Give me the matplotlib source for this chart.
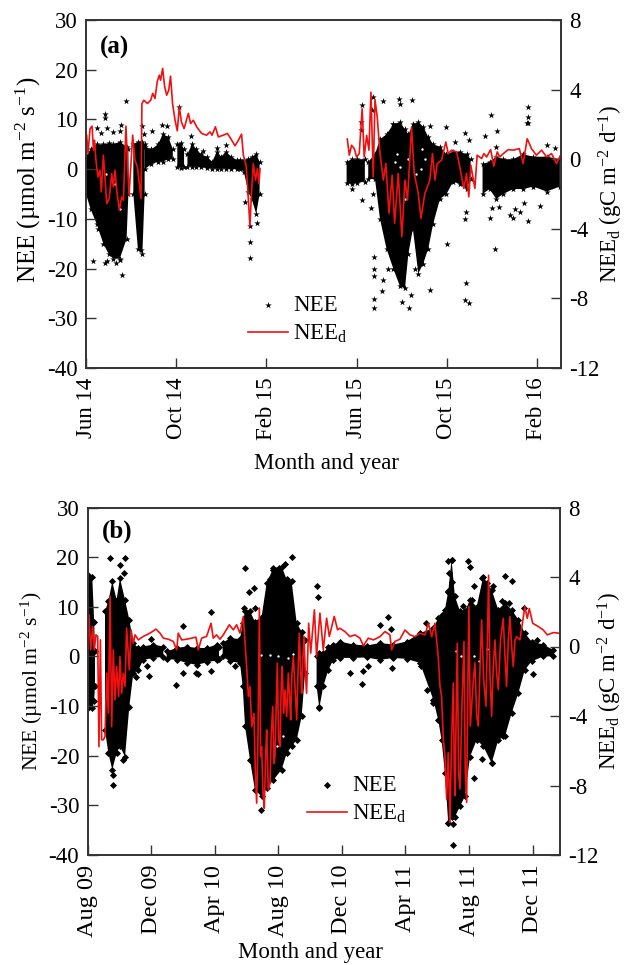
import numpy as np
import matplotlib
matplotlib.use('Agg')
import matplotlib.pyplot as plt

plt.rcParams['font.family'] = ['Liberation Serif', 'DejaVu Serif']
plt.rcParams['mathtext.fontset'] = 'custom'
plt.rcParams['mathtext.rm'] = 'Liberation Serif'
plt.rcParams['mathtext.it'] = 'Liberation Serif:italic'
plt.rcParams['mathtext.bf'] = 'Liberation Serif:bold'
plt.rcParams['mathtext.default'] = 'rm'
plt.rcParams['axes.unicode_minus'] = False

nan = float('nan')

# x is months since the first tick of each panel
a_ticks = [0, 4, 8, 12, 16, 20]
a_labels = ['Jun 14', 'Oct 14', 'Feb 15', 'Jun 15', 'Oct 15', 'Feb 16']
b_ticks = [0, 4, 8, 12, 16, 20, 24, 28]
b_labels = ['Aug 09', 'Dec 09', 'Apr 10', 'Aug 10', 'Dec 10', 'Apr 11', 'Aug 11', 'Dec 11']

# dense NEE cloud, upper and lower limit per month, nan = data gap
a_m = [0, .2, .47, .77, 1.0, 1.2, 1.5, 1.8, 1.88, nan,
       2.1, 2.3, 2.5, 2.6, nan,
       2.6, 2.9, 3.2, 3.4, 3.65, 3.85, nan,
       4.05, 4.2, 4.35, nan, 4.5, 4.7, 4.9, 5.1, 5.35, 5.6, 5.8, 6.0, 6.2, 6.45, 6.7, 6.85, 7.0, 7.2, 7.35, 7.55, 7.7, nan,
       11.56, 11.8, 12.0, 12.37, nan, 12.52, 12.82, 13.04, 13.33, 13.63, 13.92, 14.15, 14.3, 14.5, 14.74, 14.96,
       15.18, 15.4, 15.7, 15.99, 16.29, 16.58, 16.88, 17.06, nan,
       17.59, 17.9, 18.2, 18.5, 18.95, 19.39, 19.84, 20.43, 21.02]
a_high = [2.5, 4, 5, 5, 5.2, 5, 5.5, 4.5, 4, nan,
          5, 5.5, 5.5, 5, nan,
          4.5, 4, 5, 7, 6.5, 4, nan,
          5, 5.3, 4, nan, 3, 5, 4, 3, 2.5, 1.5, 3.5, 2.5, 3.5, 2.5, 1.8, 1.8, 1.8, 2, 2.5, 3, 1.5, nan,
          1.5, 2, 2, 2, nan, 1.5, 3, 6, 7, 9, 9.5, 8, 7, 9, 9.5, 8.5,
          6.5, 5, 4.5, 3, 3.5, 3.5, 3, 2, nan,
          1, 1.5, 2.5, 2, 2, 3, 2.5, 2.5, 2]
a_low = [-5, -8, -11, -15, -17, -18, -18, -14, -5, nan,
         -5, -16, -17, -5, nan,
         0, 1, 1.5, 1.5, 2, 2, nan,
         .5, .3, .5, nan, .5, .5, .5, .4, .2, .1, .1, .1, .1, 0, 0, 0, -.5, -4.5, -6, -9, -5, nan,
         -2.8, -3, -2.8, -2.5, nan, -2, -2, -10, -16, -20, -23.5, -24, -17, -12, -21, -19,
         -16, -11, -6, -5, -2.5, -3, -4, -2, nan,
         -5, -4, -6, -5, -4, -4, -3.5, -4.5, -3.5]

# single NEE points outside the cloud
a_out_m = [1.76, .84, .84, .5, .95, .68, 1.55, 1.21, 1.5, 2.47, 2.59, 2.94, 3.36, 3.58, 4.14, 4.66, 5.2, 5.79, 6.19,
           .22, .55, 7.05, 7.57, 7.27, .33, .84, .95, 1.06, 1.33, 1.58, 1.5, 2.44, 7.27, 7.27,
           12.25, 12.74, 12.67, 13.18, 13.88, 13.92, 14.47, 12.22, 12.22, 13.6, 15.28, 15.99, 16.82, 17.0, 16.36,
           17.72, 17.96, 18.24, 19.6, 19.6, 19.57, 19.6, 20.43, 20.8, 18.2,
           11.8, 12.25, 12.64, 12.74, 16.84, 16.82, 16.0, 17.9, 18.13, 18.0, 18.31, 18.8, 18.95, 19.25, 19.02, 19.42,
           19.6, 20.13, 12.77, 12.77, 12.77, 12.77, 12.77, 13.14, 13.18, 13.4, 14.0, 14.34, 14.41, 15.25, 16.84,
           16.82, 16.98, 14.59]
a_out_v = [13.7, 11, 10.2, 8.3, 8.3, 7.3, 8.9, 7.5, 7.6, 8.7, 7, 7.7, 8.9, 8.7, 12.5, 6.7, 3.6, 4.2, 4.8,
           -6.2, -12, -6.6, -10.9, -11.4, -18.4, -18.9, -18.4, -16.3, -18.8, -21.3, -18.3, -16.3, -17.8, -14.6,
           12.9, 14.6, 11.9, 13.8, 14.1, 13.2, 13.9, 9.5, 7.9, 9.1, 8.7, 8.4, 7.3, 5.9, 5.5,
           6.7, 10.8, 7.6, 12.4, 10.5, 9.2, 9.2, 4.8, 4.2, 4.5,
           -3.9, -6.2, -7.9, -4.9, -8.6, -10, -15, -9.9, -16, -7.8, -7.6, -9.2, -9.8, -8.6, -8, -6.9,
           -10.5, -7.4, -17.6, -20, -21.5, -26.2, -27.9, -24.5, -22.3, -20, -26.8, -27.9, -25.3, -24.3, -23,
           -26.3, -27, -20]

# light gaps inside the cloud
a_gap_m = [.9, 1.3, 1.5, 13.7, 13.95, 14.3, 14.85, 15.05, 14.65, 14.15, 13.8, 14.9]
a_gap_v = [-1, -3, -8, 1.5, .5, 2, 0, 2, -1, -6, 3, 4]
b_gap_m = [10.9, 11.5, 12, 12.6, 12.9, 11.9, 12.3, 24.3, 24.6, 23.5, 24.5, 24.8, 23.2, 25.1]
b_gap_v = [.3, .3, 0, -.3, .5, -18, -16, 0, -1, 0, -19, -20, 1, 1.5]

# daily NEE, right axis
a_d_m = [.03, .09, .18, .27, .33, .38, .44, .53, .62, .68, .77, .83, .92, 1.03, 1.14, 1.21, 1.29, 1.36, 1.48, 1.58,
         1.66, 1.77, 1.91, 2.07, 2.17, 2.28, 2.44, 2.48, 2.57, 2.72, 2.87, 2.96, 3.06, 3.16, 3.25, 3.31, 3.40, 3.49,
         3.58, 3.67, 3.75, 3.84, 3.95, 4.05, 4.14, 4.23, 4.35, 4.54, 4.64, 4.76, 4.91, 5.13, 5.35, 5.50, 5.59, 5.74,
         5.87, 6.09, 6.27, 6.42, 6.61, 6.76, 6.90, 6.98, 7.10, 7.17, 7.27, 7.35, 7.42, 7.52, 7.60, 7.67, 7.72, nan,
         11.59, 11.68, 11.78, 11.90, 12.00, 12.12, 12.25, 12.34, 12.45, 12.55, 12.64, 12.74, 12.82, 12.92, 13.04,
         13.19, 13.30, 13.44, 13.58, 13.69, 13.85, 14.01, 14.15, 14.26, 14.44, 14.56, 14.74, 14.86, 15.03, 15.25,
         15.37, 15.48, 15.58, 15.77, 15.96, 16.07, 16.22, 16.44, 16.58, 16.76, 16.88, 16.98, 17.07, 17.25, 17.35,
         17.55, 17.65, 17.77, 17.95, 18.09, 18.24, 18.36, 18.51, 18.73, 18.95, 19.22, 19.39, 19.57, 19.76, 19.98,
         20.21, 20.43, 20.65, 20.87, 21.05]
a_d_v = [1.38, .33, 1.76, 1.90, .52, 1.09, -.06, -1.02, -.63, -1.88, .23, -.82, -2.55, -2.26, -.82, -1.59, -.63, -1.78,
         -2.93, -2.17, -2.36, 1.90, -2.07, 1.38, -.06, -.44, -2.26, 3.20, 3.39, 3.20, 3.39, 3.78, 3.49, 4.45, 4.83,
         4.54, 5.22, 4.16, 3.68, 3.97, 4.77, 3.20, 2.24, 1.63, 3.01, 2.15, 1.76, 2.63, 2.05, 2.24, 1.86, 1.48, 1.38,
         1.57, 1.38, 1.86, 1.28, 1.38, 1.48, 1.19, .77, 1.09, 1.44, .23, -.35, -1.59, -3.84, -1.78, -.25, -1.21, -.54,
         -1.40, -.54, nan,
         1.16, .23, .80, .61, .13, .32, 2.90, .13, 1.37, .52, 3.85, -1.01, 3.42, 2.42, .32, -1.20, -.25, -3.11, -.92,
         -3.68, -.82, -4.45, -1.20, -2.35, 1.85, -.82, -1.97, -3.40, -1.97, -1.20, .32, -1.20, -.25, -.06, .99, .32,
         .52, .42, -.44, -1.68, -.82, -2.16, -.34, -1.68, .23, .04, .32, .13, .55, -.40, .42, .13, .32, .55, .52, .61,
         -.25, 1.18, .61, .23, .52, .13, .32, -.25, .23]

b_m = [0, .3, .42, .47, nan,
       1.1, 1.31, 1.56, 1.83, 2.04, 2.36, 2.63, 2.88, 3.2, 3.51, 4.14, 4.77, nan,
       4.98, 5.61, 6.24, 6.87, 7.49, 8.12, 8.27, nan,
       8.5, 8.96, 9.59, 9.76, 9.91, 10.22, 10.53, 10.95, 11.27, 11.69, 12.21, 12.53, 12.84, 13.16, 13.47, 13.68, nan,
       14.41, 14.58, 14.83, 15.15, 15.46, 15.88, 16.72, 17.56, 18.4, 19.23, 20.07, 20.91, 21.75, 22.06, 22.27, 22.48,
       22.69, 22.9, 23.11, 23.43, 23.74, 24.06, 24.48, 24.89, 25.42, 25.84, 26.26, 26.68, 27.1, 27.51, 27.93, 28.67,
       29.3]
b_high = [16.5, 16, 7, 1, nan,
          9.1, 11.1, 15.1, 11.4, 15.8, 11.4, 7.4, 2.7, 1.7, 2, 2.4, 2, nan,
          1, 1.7, 2, 1.7, 1.7, 2.4, 2, nan,
          2.7, 3.7, 3.5, 6.7, 9.1, 9.1, 7, 8, 14.8, 17.8, 18.1, 15.5, 15.1, 6.7, 5, 3.4, nan,
          0, .7, .7, 2, 2.4, 3, 2.4, 2.2, 2.7, 2.4, 3, 4.7, 5.7, 7.7, 8.4, 9.4,
          13.1, 19.5, 12.1, 9.1, 9.1, 11.4, 10, 16.1, 13.4, 9.4, 10.8, 9.4, 7.4, 4.7, 3, 2.4,
          1.3]
b_low = [-10.4, -10.4, -9, -6, nan,
         -14.8, -19.5, -22.8, -19.5, -18.1, -20.2, -10.1, -3.4, -2.7, -.7, -.3, -.1, nan,
         -.5, -.7, -1.3, -1.7, -1.2, -.8, -.5, nan,
         0, -1, -1.3, -6, -14.1, -20.8, -26.9, -28.2, -26.5, -24.9, -22.8, -19.5, -18.1, -16.8, -12.1, -3.4, nan,
         -6, -10.4, -6, -2.7, -.7, -.3, -.3, -.2, -.7, -.3, -.5, -1.3, -8.7, -12.8, -16.8, -23.5,
         -33.6, -32.3, -32.3, -30.2, -28.2, -20.2, -16.8, -18.1, -21.5, -16.8, -16.1, -11.4, -7.4, -2.7, -1, 0,
         0]

b_out_m = [1.42, 2.38, 2.02, 2.32, 1.58, 1.58, 2.21, 3.03, 3.76, 3.85, 3.97, 6.03, 6.03, 5.59, 7.77, 7.75, 6.82, 6.97,
           9.91, 10.16, 10.45, 9.82, 14.45, 14.5, 14.58, 10.9, 12.84, 12.42, 12.05, 11.69, 11.48, 9.28, 10.53,
           16.51, 17.28, 17.35, 17.66, 18.92, 18.4, 19.09, 19.13, 20.95, 21.29, 21.37, 21.75, 22.69, 22.9, 23.95, 24.06,
           22.74, 22.95, 22.69, 24.31, 24.79, 25.1, 26.26, 26.68, 25.52, 23.59, 24.16, 26.05, 26.53, 27.45, 28.25, 28.0,
           24.33, 24.79, 22.97, 22.69, 23.01, 26.15, 25.42]
b_out_v = [19.8, 19.8, 18.4, 16.8, -23.9, -25.9, -20.8, -4.2, -1.9, -4, 3.5, 6.2, -3.4, -5.8, 8.9, -3, -3.4, -3.6,
           17.9, 12.9, 13.8, 9.7, 14.1, 12, -10.1, -31, 20, 18.7, 17.8, 17.5, 15.6, -2, 9.7,
           -3.4, -5.5, -3, -2, 7.9, 6.4, 5.5, -2.4, -1.9, 6.7, -6.7, -9.4, 19.2, 19.5, 19.2, 18,
           16.8, 14.9, 12.9, 14.2, 15.8, 14.8, 16.3, 15.1, 14.1, 10.1, 11.4, 11.1, 10.8, 9.7, 3.4, -3.5,
           -24.4, -20.7, -38, -33.6, -33.7, -16, -21.5]

b_d_m = [0, .09, .2, .32, .43, .53, .64, .72, .81, .89, 1.0, 1.1, 1.21, 1.31, 1.42, 1.52, 1.62, 1.73, 1.83, 1.96, 2.04,
         2.15, 2.25, 2.36, 2.46, 2.63, 2.74, 2.88, 2.99, 3.2, 3.51, 3.93, 4.31, 4.56, 4.77, 5.08, 5.4, 5.61, 5.71, 5.92,
         6.24, 6.55, 6.82, 6.97, 7.18, 7.49, 7.77, 7.91, 8.12, 8.33, 8.54, 8.92, 9.17, 9.38, 9.59, 9.8,
         10.01, 10.12, 10.22, 10.33, 10.47, 10.56, 10.64, 10.72, 10.81, 10.89, 10.95, 11.04, 11.12, 11.21, 11.27, 11.37,
         11.48, 11.56, 11.65, 11.73, 11.79, 11.88, 11.94, 12.02, 12.11, 12.19, 12.25, 12.34, 12.42, 12.53, 12.63, 12.72,
         12.78, 12.86, 12.95, 13.05, 13.16, 13.24, 13.32, 13.41, 13.47, 13.55, 13.62, 13.70, 13.78,
         13.91, 14.04, 14.27, 14.41, 14.62, 14.83, 15.04, 15.21, 15.52, 15.73,
         15.88, 16.19, 16.51, 16.82, 17.14, 17.35, 17.66, 17.98, 18.4, 18.71, 19.02, 19.13, 19.34, 19.65, 19.97, 20.28,
         20.6, 20.91, 21.23, 21.44, 21.65, 21.85,
         22.06, 22.17, 22.27, 22.38, 22.48, 22.59, 22.69, 22.8, 22.9, 23.01, 23.07, 23.11, 23.2, 23.26, 23.34, 23.43,
         23.55, 23.68, 23.76, 23.85, 23.93, 23.99, 24.08, 24.16, 24.27, 24.37, 24.48, 24.58, 24.69, 24.79, 24.92, 25.06,
         25.15, 25.23, 25.31, 25.42, 25.52, 25.63, 25.73, 25.84, 25.98, 26.15, 26.26, 26.36, 26.47, 26.57, 26.68, 26.78,
         26.89, 26.99, 27.2, 27.51, 27.66, 27.79, 28.0, 28.35, 28.67, 28.92, 29.3, 29.72]
b_d_v = [-.77, 1.82, -.19, 1.15, -.19, .67, .58, -5.76, .38, -5.37, -5.37, -5.18, -1.54, -3.84, 2.88, -4.61, -.19, -3.07,
         -1.15, -2.88, -.58, -2.69, -1.54, -2.3, 1.06, -1.34, .96, .19, .67, .38, .58, .77, 1.0, .77, .48, .42, .29, -.19,
         .77, .38, .42, .48, .54, -.19, .48, .58, 1.34, .48, .67, .42, .67, 1.25, .96, 1.25, .77, 1.73,
         -1.15, -2.88, -2.3, -4.61, -3.84, -7.29, -9.02, -5.37, 2.21, -6.33, -5.76, -8.44, -9.31, -6.14, -4.8, -8.25,
         -7.87, -4.99, -3.45, -6.72, -6.33, -3.07, -.96, -5.37, -5.76, -2.11, -1.15, -3.84, -2.5, -4.03, -1.54, -3.07,
         -4.22, -1.54, -.58, -2.3, -4.22, -1.54, .77, -1.54, -2.69, -.58, .58, -1.54, -2.69,
         1.34, -.38, 2.11, -.58, 1.92, -.19, 1.63, .58, 1.73, .96,
         1.05, .86, .57, .67, .48, .04, .48, .38, .57, .86, .67, -.19, .29, .42, .95, .67,
         .57, .76, .67, 1.34, .57, 1.34,
         -.57, -2.29, -2.86, -5.34, -6.3, -8.78, -6.11, -10.11, -5.34, -2.1, -7.25, -8.59, -3.44, .19, -7.25, -8.21,
         -3.44, .29, -7.25, -8.97, -1.53, 2.29, -4.58, -3.44, -1.91, -.95, -4.01, -4.58, -1.15, 1.53, -1.91, -3.44,
         .38, 4.1, -1.53, -4.01, -1.15, .38, -1.53, -2.48, .38, 1.62, -.57, -2.29, .38, 1.72, 0, -1.15,
         .38, .57, .38, 2.29, 1.62, 2.19, 1.34, 1.15, .95, .67, .8, .76]


def panel(pos, xmax, ticks, labels, m, low, high, out_m, out_v, gap_m, gap_v, d_m, d_v, marker, size, tag, tag_y,
          legend_xy, xt_size, yl_size, yl_y, xl_xy):
    ax = fig.add_axes(pos)
    m, low, high = np.array(m), np.array(low), np.array(high)
    # the black cloud is an envelope with the markers sitting on its edge
    ax.fill_between(m, low, high, color='black', lw=0)
    ax.scatter(np.r_[m, m], np.r_[low, high], marker=marker, s=size, color='black', lw=0)
    ax.scatter(gap_m, gap_v, marker='o', s=3, color='white', lw=0)
    pts = ax.scatter(out_m, out_v, marker=marker, s=size, color='black', lw=0)
    ax.set_xlim(0, xmax)
    ax.set_ylim(-40, 30)
    ax.set_yticks(range(-40, 31, 10))
    ax.set_xticks(ticks)
    ax.set_xticklabels(labels, rotation=90)
    ax.set_xlabel('Month and year', fontsize=16.5)
    ax.xaxis.set_label_coords(*xl_xy)
    ax.set_ylabel('NEE (µmol m$^{-2}$ s$^{-1}$)', fontsize=yl_size)
    ax.yaxis.set_label_coords(-0.09, yl_y)
    ax.text(0.03, tag_y, tag, transform=ax.transAxes, fontsize=18, fontweight='bold', va='center')

    ax2 = ax.twinx()
    ax2.set_ylim(-12, 8)
    ax2.set_yticks(range(-12, 9, 4))
    line, = ax2.plot(d_m, d_v, color='#f01010', lw=1.2)
    ax2.set_ylabel('NEE$_{\\mathrm{d}}$ (gC m$^{-2}$ d$^{-1}$)', fontsize=16.5)
    ax2.yaxis.set_label_coords(1.075, 0.5)

    for a in (ax, ax2):
        a.tick_params(axis='y', direction='in', length=7, width=1, color='#333333', labelsize=16.5, pad=6)
        a.tick_params(axis='x', direction='in', length=7, width=1, color='#333333', labelsize=xt_size, pad=7)
        for s in a.spines.values():
            s.set_color('#333333')
            s.set_linewidth(1.2)
    ax2.legend([pts, line], ['NEE', 'NEE$_{\\mathrm{d}}$'], loc='center', bbox_to_anchor=legend_xy, frameon=False,
               fontsize=16.5, handlelength=1.75, handletextpad=0.22, labelspacing=0.3, borderpad=0, scatterpoints=1)


W, H = 627, 965
fig = plt.figure(figsize=(W / 100, H / 100), dpi=100)

panel([86 / W, 1 - 368 / H, 475 / W, 348 / H], 21.07, a_ticks, a_labels, a_m, a_low, a_high, a_out_m, a_out_v,
      a_gap_m, a_gap_v, a_d_m, a_d_v, '*', 24, '(a)', 0.922, (0.446, 0.138), 16.5, 18, 0.54, (0.507, -0.244))
panel([87.5 / W, 1 - 855 / H, 472.5 / W, 347.5 / H], 29.72, b_ticks, b_labels, b_m, b_low, b_high, b_out_m, b_out_v,
      b_gap_m, b_gap_v, b_d_m, b_d_v, 'D', 13, '(b)', 0.932, (0.57, 0.158), 17.5, 15.7, 0.5, (0.473, -0.25))

fig.savefig('out.png', dpi=100)
